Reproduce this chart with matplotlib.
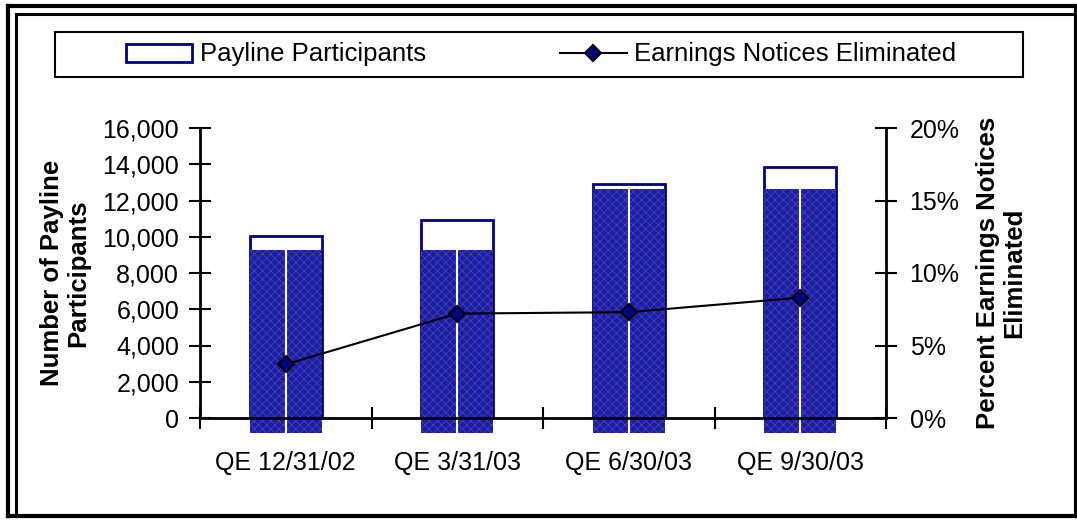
import numpy as np
import matplotlib
matplotlib.use("Agg")
import matplotlib.pyplot as plt
from matplotlib.patches import Rectangle, Patch
from matplotlib.lines import Line2D
from matplotlib.ticker import FuncFormatter

plt.rcParams['font.family'] = ['Liberation Sans', 'DejaVu Sans']
plt.rcParams['hatch.linewidth'] = 0.6

# ---- data ----
categories = ['QE 12/31/02', 'QE 3/31/03', 'QE 6/30/03', 'QE 9/30/03']
participants = [10050, 10950, 12900, 13850]      # Payline Participants (outline bars)
shaded_level = [9250, 9250, 12650, 12650]        # shaded picture fill inside bars
pct_eliminated = [3.7, 7.2, 7.3, 8.3]            # Earnings Notices Eliminated (%)
left_ticks = [0, 2000, 4000, 6000, 8000, 10000, 12000, 14000, 16000]
right_ticks = [0, 5, 10, 15, 20]

W, H = 1077, 523
NAVY = '#000080'
shade_base = -850

fig = plt.figure(figsize=(W / 100, H / 100), dpi=100)
ax = fig.add_axes([200 / W, 1 - 418 / H, 686 / W, 290 / H])

x = np.arange(len(categories))
ax.bar(x, participants, width=0.42, facecolor='white', edgecolor=NAVY,
       linewidth=2, zorder=1)
sh = np.array(shaded_level)
ax.bar(x, sh - shade_base, bottom=shade_base, width=0.42, facecolor='#1e1e9c',
       edgecolor='#4040c8', hatch='xxxx', linewidth=0, clip_on=False, zorder=1.5)
ax.vlines(x, shade_base, sh, colors='white', linewidth=1.5, clip_on=False, zorder=1.6)

ax.set_xlim(-0.5, len(categories) - 0.5)
ax.set_ylim(0, 16000)
ax.set_xticks(np.arange(-0.5, len(categories), 1.0))
ax.set_xticks(x, minor=True)
ax.set_xticklabels(categories, minor=True)
ax.tick_params(axis='x', which='major', direction='inout', length=16, width=1.5,
               labelbottom=False)
ax.tick_params(axis='x', which='minor', length=0, pad=24, labelsize=18)
ax.set_yticks(left_ticks)
ax.yaxis.set_major_formatter(FuncFormatter(lambda v, p: f'{int(v):,}'))
ax.tick_params(axis='y', direction='inout', length=16, width=1.5, pad=7, labelsize=18)
for s in ['top', 'right']:
    ax.spines[s].set_visible(False)
for s in ['left', 'bottom']:
    ax.spines[s].set_linewidth(2)

ax2 = ax.twinx()
ax2.plot(x, pct_eliminated, color='black', linewidth=1.5, marker='D', markersize=8.5,
         markerfacecolor=NAVY, markeredgecolor='black', markeredgewidth=1.5,
         clip_on=False, zorder=3)
ax2.set_ylim(0, 20)
ax2.set_yticks(right_ticks)
ax2.set_yticklabels([f'{v}%' for v in right_ticks])
ax2.tick_params(axis='y', direction='inout', length=16, width=1.5, pad=9, labelsize=18)
for s in ['top', 'left', 'bottom']:
    ax2.spines[s].set_visible(False)
ax2.spines['right'].set_linewidth(2)

# axis titles
fig.text(65 / W, 1 - 273 / H, 'Number of Payline\nParticipants', rotation=90,
         ha='center', va='center', multialignment='center', fontsize=18.5,
         fontweight='bold', linespacing=1.15)
fig.text(1001 / W, 1 - 273 / H, 'Percent Earnings Notices\nEliminated', rotation=90,
         ha='center', va='center', multialignment='center', fontsize=18.5,
         fontweight='bold', linespacing=1.15)

# legend
fig.add_artist(Rectangle((55 / W, 1 - 77 / H), (1023 - 55) / W, 45 / H,
                         transform=fig.transFigure, fill=False, linewidth=1.5,
                         edgecolor='black'))
handles = [Patch(facecolor='white', edgecolor=NAVY, linewidth=2),
           Line2D([], [], color='black', linewidth=1.5, marker='D', markersize=8.5,
                  markerfacecolor=NAVY, markeredgecolor='black', markeredgewidth=1.5)]
fig.legend(handles, ['Payline Participants', 'Earnings Notices Eliminated'],
           loc='center', bbox_to_anchor=(541 / W, 1 - 54.5 / H), ncol=2,
           frameon=False, fontsize=18.5, handlelength=2.6, handletextpad=0.3,
           columnspacing=5.2)

# outer double border
def fline(x0, y0, x1, y1, lw):
    fig.add_artist(Line2D([x0 / W, x1 / W], [1 - y0 / H, 1 - y1 / H],
                          transform=fig.transFigure, color='black', linewidth=lw,
                          solid_capstyle='projecting'))

fline(8, 6, 1075.5, 6, 3)
fline(8, 6, 8, 516, 3)
fline(1075.5, 6, 1075.5, 516, 3)
fline(8, 516, 1075.5, 516, 3)
fline(15.5, 14, 1075.5, 14, 2.2)
fline(15.5, 14, 15.5, 516, 2.2)

fig.savefig('out.png', dpi=100)
